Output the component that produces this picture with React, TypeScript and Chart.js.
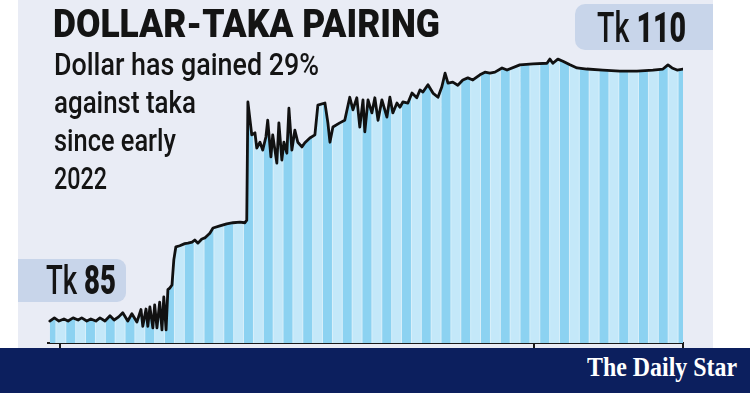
import React, { useEffect, useLayoutEffect, useRef } from "react";
import { Chart, registerables } from "chart.js";

Chart.register(...registerables);

// ---- data (weeks since start of Jan 2022, taka per dollar) ----
const weeks = [
  -2.2, -1.2, -0.2, 0.9, 1.8, 2.9, 4.0, 4.8, 5.9, 6.8, 7.9, 8.8, 9.9, 11.0, 11.9, 12.9, 13.8, 14.9, 15.8, 16.9,
  17.8, 18.2, 18.9, 19.3, 19.75, 20.4, 20.8, 21.3, 21.9, 22.4, 22.8, 23.3, 23.7, 24.1, 24.6, 25.0, 25.45,
  26.3, 27.4, 28.1, 29.0, 29.6, 30.3, 31.15, 31.8, 32.9, 33.6, 35.1, 36.6, 38.0, 39.5, 40.6, 41.0,
  41.25, 42.1, 42.8, 43.2, 43.9, 44.5, 45.2, 45.6, 46.3, 46.7, 47.6, 48.05, 48.7, 49.15, 49.8, 50.25, 50.9,
  51.55, 52.2, 53.1, 53.75, 54.85, 55.95, 56.6, 58.15, 58.8, 59.25, 59.9, 61.4, 62.5, 63.6, 64.3, 65.15,
  65.8, 66.5, 66.9, 67.6, 68.45, 69.1, 69.8, 70.65, 71.75, 72.4, 73.05, 73.95, 74.6, 75.25, 76.35, 77.25,
  78.3, 79.0, 79.65, 80.75, 81.85, 82.95, 83.8, 84.5, 85.15, 86.2, 87.3, 88.4, 89.5, 90.6, 92.15, 93.25,
  94.35, 95.45, 97.0, 98.1, 100.9, 103.8, 106.85, 107.5, 108.15, 109.25, 110.35, 111.9, 113.45, 115.6,
  119.1, 122.85, 126.6, 130.1, 132.3, 133.4, 134.3, 135.4, 136.7,
];
const rates = [
  85.9, 86.2, 85.9, 86.1, 85.9, 86.2, 86.0, 86.2, 85.9, 86.1, 85.9, 86.2, 85.9, 86.4, 86.0, 86.3, 86.7, 85.9, 86.6, 85.8,
  87.0, 85.4, 87.05, 85.4, 87.25, 85.25, 87.45, 85.25, 87.7, 85.05, 88.2, 85.05, 88.9, 89.05, 89.35, 91.75, 93.0,
  93.1, 93.3, 93.35, 93.45, 93.65, 93.35, 93.75, 93.85, 94.3, 94.8, 95.0, 95.2, 95.3, 95.35, 95.3, 95.55,
  106.85, 103.7, 103.9, 102.45, 103.0, 102.25, 103.5, 105.1, 101.6, 103.7, 101.0, 104.85, 101.3, 103.0, 101.95, 106.25, 102.25,
  104.15, 103.0, 102.55, 102.95, 103.4, 103.7, 106.55, 106.75, 104.85, 103.0, 104.45, 104.85, 105.1, 107.3, 106.1, 107.25,
  104.45, 107.05, 104.0, 107.05, 105.8, 107.25, 105.1, 107.05, 105.4, 107.3, 105.8, 106.75, 106.35, 106.85, 106.75, 107.7,
  107.25, 108.0, 107.8, 108.5, 107.7, 107.3, 108.3, 109.6, 108.65, 108.75, 108.45, 108.95, 109.15, 108.95, 109.45, 109.7,
  109.6, 109.7, 110.1, 109.9, 110.4, 110.5, 110.55, 110.95, 110.55, 110.95, 110.75, 110.4, 110.1, 110.0,
  109.9, 109.8, 109.8, 109.9, 110.0, 110.4, 110.1, 109.9, 110.0,
];
const tickWeeks = [0, 104, 136.7];
const axisRange = [-2.6, 136.7];
const rateRange = [83.8, 116.6];

const titleText = "DOLLAR-TAKA PAIRING";
const subtitleLines = ["Dollar has gained 29%", "against taka", "since early", "2022"];
const startLabel = ["Tk", "85"];
const endLabel = ["Tk", "110"];
const brand = "The Daily Star";

type FitProps = {
  left: number;
  top: number;
  width: number;
  fontSize: number;
  family: string;
  weight?: number;
  color?: string;
  children: React.ReactNode;
};

function FitText({ left, top, width, fontSize, family, weight = 400, color = "#141414", children }: FitProps) {
  const ref = useRef<HTMLDivElement>(null);
  useLayoutEffect(() => {
    const el = ref.current;
    if (!el) return;
    const fit = () => {
      el.style.transform = "none";
      const w = el.getBoundingClientRect().width;
      if (w > 0) el.style.transform = `scaleX(${width / w})`;
    };
    fit();
    const fonts = (document as any).fonts;
    if (fonts && fonts.ready) fonts.ready.then(fit);
  }, [width]);
  return (
    <div
      ref={ref}
      style={{
        position: "absolute",
        left,
        top,
        fontSize,
        lineHeight: 1,
        whiteSpace: "nowrap",
        transformOrigin: "0 0",
        fontFamily: family,
        fontWeight: weight,
        color,
      }}
    >
      {children}
    </div>
  );
}

export default function App() {
  const canvasRef = useRef<HTMLCanvasElement>(null);

  useEffect(() => {
    const canvas = canvasRef.current;
    if (!canvas) return;
    const ctx = canvas.getContext("2d")!;
    const tile = document.createElement("canvas");
    tile.width = 20;
    tile.height = 4;
    const t = tile.getContext("2d")!;
    t.fillStyle = "#c4e8f9";
    t.fillRect(0, 0, 20, 4);
    t.fillStyle = "#8cd2f1";
    t.fillRect(0, 0, 9, 4);
    t.fillStyle = "#d9f0fb";
    t.fillRect(9, 0, 1, 4);
    t.fillRect(19, 0, 1, 4);
    const pattern = ctx.createPattern(tile, "repeat")!;
    pattern.setTransform(new DOMMatrix([19.75 / 20, 0, 0, 1, 7, 0]));

    const chart = new Chart(canvas, {
      type: "line",
      data: {
        datasets: [
          {
            data: weeks.map((w, i) => ({ x: w, y: rates[i] })),
            borderColor: "#111111",
            borderWidth: 2.8,
            pointRadius: 0,
            tension: 0,
            fill: "start",
            backgroundColor: pattern as any,
            borderJoinStyle: "round",
            borderCapStyle: "round",
          },
        ],
      },
      options: {
        animation: false,
        responsive: false,
        events: [],
        layout: { padding: { left: 48, right: 67, top: 0, bottom: 45 } },
        plugins: { legend: { display: false }, tooltip: { enabled: false } },
        scales: {
          x: {
            type: "linear",
            min: axisRange[0],
            max: axisRange[1],
            grid: {
              display: true,
              drawOnChartArea: false,
              drawTicks: true,
              tickLength: 5,
              color: "#1a1a1a",
              lineWidth: 2,
            },
            border: { display: true, color: "#1a1a1a", width: 2 },
            ticks: { display: false },
            afterBuildTicks: (s: any) => {
              s.ticks = tickWeeks.map((v) => ({ value: v }));
            },
          },
          y: { display: false, min: rateRange[0], max: rateRange[1] },
        },
      },
    });
    return () => chart.destroy();
  }, []);

  const sans = "Roboto, 'Open Sans', sans-serif";
  const subTops = [48.9, 86.9, 124.9, 162.9];
  const subWidths = [265, 142, 122, 53];

  return (
    <div style={{ position: "relative", width: 750, height: 393, overflow: "hidden", background: "#ffffff" }}>
      <style>{`body{margin:0}`}</style>
      <div style={{ position: "absolute", left: 18, top: 0, width: 695, height: 348, background: "#e9ecf5" }} />
      <div
        style={{
          position: "absolute",
          left: 575,
          top: 4,
          width: 138,
          height: 46,
          background: "#c8d5ea",
          borderRadius: "10px 0 0 10px",
        }}
      />
      <div
        style={{
          position: "absolute",
          left: 18,
          top: 259,
          width: 108,
          height: 43,
          background: "#c8d5ea",
          borderRadius: "0 9px 9px 0",
        }}
      />
      <canvas
        ref={canvasRef}
        width={750}
        height={393}
        style={{ position: "absolute", left: 0, top: 0, width: 750, height: 393 }}
      />
      <div style={{ position: "absolute", left: 0, top: 348, width: 750, height: 45, background: "#0c1f5e" }} />

      <FitText left={53} top={5} width={387} fontSize={38} family={sans} weight={900}>
        {titleText}
      </FitText>
      {subtitleLines.map((line, i) => (
        <FitText key={i} left={54} top={subTops[i]} width={subWidths[i]} fontSize={31} family={sans} weight={500}>
          {line}
        </FitText>
      ))}
      <FitText left={46} top={261.3} width={70} fontSize={40} family={sans} weight={500}>
        <span>{startLabel[0]}</span> <span style={{ fontWeight: 900 }}>{startLabel[1]}</span>
      </FitText>
      <FitText left={597} top={6.6} width={89} fontSize={42} family={sans} weight={500}>
        <span>{endLabel[0]}</span> <span style={{ fontWeight: 900 }}>{endLabel[1]}</span>
      </FitText>
      <FitText left={587} top={353} width={150} fontSize={28} family="'Liberation Serif', 'DejaVu Serif', serif" weight={700} color="#ffffff">
        {brand}
      </FitText>
    </div>
  );
}
